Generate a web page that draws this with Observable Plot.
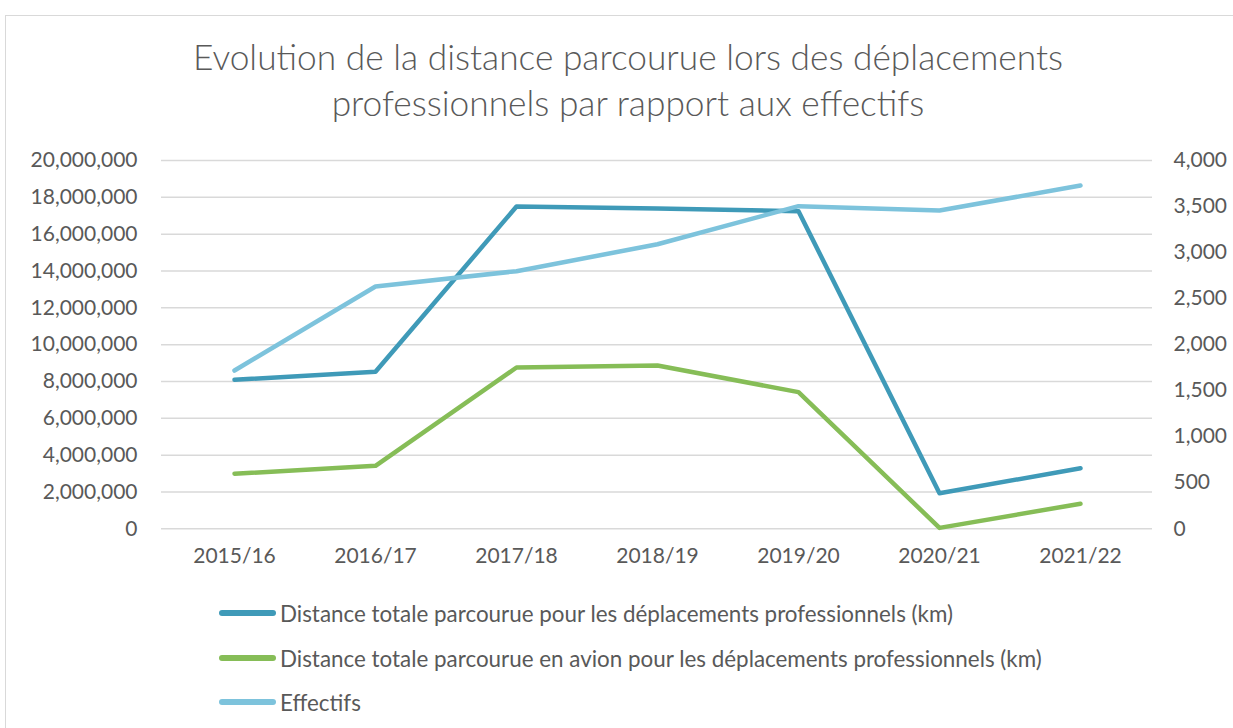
<!DOCTYPE html>
<html>
<head>
<meta charset="utf-8">
<script src="https://cdn.jsdelivr.net/npm/d3@7"></script>
<script src="https://cdn.jsdelivr.net/npm/@observablehq/plot@0.6"></script>
<style>
  html, body { margin: 0; padding: 0; background: #fff; width: 1233px; height: 728px; overflow: hidden; font-family: Lato, "Open Sans", sans-serif; color: #595959; }
  #frame { position: absolute; left: 5px; top: 15px; width: 1300px; height: 800px; border: 1px solid #d9d9d9; box-sizing: border-box; }
  .title { position: absolute; left: 0; width: 1256px; text-align: center; font-size: 35.3px; line-height: 1.2; font-weight: 300; color: #595959; white-space: nowrap; }
  #chart { position: absolute; left: 0; top: 130px; }
  .leg { position: absolute; left: 219px; height: 24px; display: flex; align-items: center; font-size: 22.4px; color: #595959; white-space: nowrap; }
  .sw { width: 57px; height: 6px; border-radius: 3px; margin-right: 4px; }
</style>
</head>
<body>
<div id="frame"></div>
<div class="title" id="t1" style="top:36px"></div>
<div class="title" id="t2" style="top:82px"></div>
<div id="chart"></div>
<div id="legend"></div>
<script>
const titleLines = ["Evolution de la distance parcourue lors des déplacements", "professionnels par rapport aux effectifs"];
const categories = ["2015/16", "2016/17", "2017/18", "2018/19", "2019/20", "2020/21", "2021/22"];
const distanceTotale = [8090000, 8530000, 17500000, 17400000, 17250000, 1930000, 3290000];
const distanceAvion = [2990000, 3420000, 8760000, 8870000, 7420000, 50000, 1360000];
const effectifs = [1719, 2632, 2798, 3090, 3504, 3457, 3728];
const leftTicks = [0, 2000000, 4000000, 6000000, 8000000, 10000000, 12000000, 14000000, 16000000, 18000000, 20000000];
const rightTicks = [0, 500, 1000, 1500, 2000, 2500, 3000, 3500, 4000];
const seriesNames = [
  "Distance totale parcourue pour les déplacements professionnels (km)",
  "Distance totale parcourue en avion pour les déplacements professionnels (km)",
  "Effectifs"
];
const colors = ["#3f9ab8", "#86bd57", "#7dc3dc"];

document.getElementById("t1").textContent = titleLines[0];
document.getElementById("t2").textContent = titleLines[1];

const leftMax = 20000000, rightMax = 4000;
const k = leftMax / rightMax;

const rows = (vals) => categories.map((c, i) => ({cat: c, v: vals[i]}));
const fmt = d3.format(",");

const plot = Plot.plot({
  width: 1233,
  height: 450,
  marginTop: 30,
  marginBottom: 51.7,
  marginLeft: 161,
  marginRight: 81,
  style: {fontFamily: "Lato, 'Open Sans', sans-serif", fontSize: "21px", color: "#595959", background: "transparent"},
  x: {type: "point", domain: categories, padding: 0.5},
  y: {domain: [0, leftMax]},
  marks: [
    Plot.gridY(leftTicks, {stroke: "#d9d9d9", strokeOpacity: 1, strokeWidth: 1.5}),
    Plot.axisY(leftTicks, {anchor: "left", tickSize: 0, tickPadding: 24, tickFormat: fmt, label: null, fill: "#595959"}),
    Plot.axisY(rightTicks.map(d => d * k), {anchor: "right", tickSize: 0, tickPadding: 21, tickFormat: d => fmt(d / k), label: null, fill: "#595959"}),
    Plot.axisX({tickSize: 0, tickPadding: 19, label: null, fill: "#595959"}),
    Plot.line(rows(distanceTotale), {x: "cat", y: "v", stroke: colors[0], strokeWidth: 4.5, strokeLinecap: "round", strokeLinejoin: "round"}),
    Plot.line(rows(distanceAvion), {x: "cat", y: "v", stroke: colors[1], strokeWidth: 4.5, strokeLinecap: "round", strokeLinejoin: "round"}),
    Plot.line(rows(effectifs), {x: "cat", y: d => d.v * k, stroke: colors[2], strokeWidth: 4.5, strokeLinecap: "round", strokeLinejoin: "round"})
  ]
});
document.getElementById("chart").appendChild(plot);

const legend = document.getElementById("legend");
const legTops = [601, 646, 690];
seriesNames.forEach((name, i) => {
  const row = document.createElement("div");
  row.className = "leg";
  row.style.top = legTops[i] + "px";
  const sw = document.createElement("span");
  sw.className = "sw";
  sw.style.background = colors[i];
  const tx = document.createElement("span");
  tx.textContent = name;
  row.appendChild(sw);
  row.appendChild(tx);
  legend.appendChild(row);
});
</script>
</body>
</html>
